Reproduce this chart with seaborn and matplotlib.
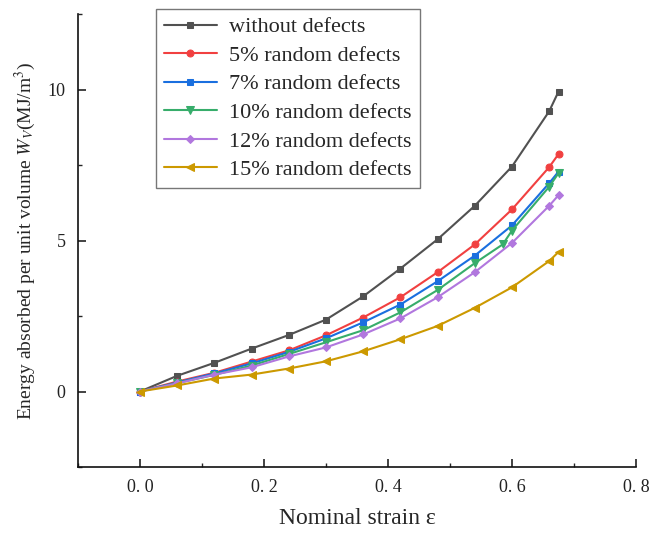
import numpy as np
import pandas as pd
import matplotlib
matplotlib.use("Agg")
import matplotlib.pyplot as plt
import seaborn as sns
from matplotlib.ticker import MultipleLocator, FixedLocator, FixedFormatter

sns.set_theme(style="ticks")
plt.rcParams['font.family'] = ['Liberation Serif', 'DejaVu Serif']
plt.rcParams['mathtext.fontset'] = 'stix'

strain = [0.0, 0.06, 0.12, 0.18, 0.24, 0.30, 0.36, 0.42, 0.48, 0.54, 0.60, 0.66, 0.675]
strain_green = [0.0, 0.06, 0.12, 0.18, 0.24, 0.30, 0.36, 0.42, 0.48, 0.54, 0.585, 0.60, 0.66, 0.675]

without_defects = [0.0, 0.52, 0.95, 1.42, 1.87, 2.38, 3.15, 4.07, 5.04, 6.15, 7.45, 9.28, 9.93]
defects_5 = [0.0, 0.33, 0.62, 0.99, 1.36, 1.86, 2.45, 3.12, 3.95, 4.87, 6.03, 7.43, 7.86]
defects_7 = [0.0, 0.30, 0.60, 0.93, 1.31, 1.76, 2.29, 2.88, 3.65, 4.50, 5.50, 6.90, 7.28]
defects_10 = [0.0, 0.28, 0.55, 0.86, 1.24, 1.63, 2.03, 2.62, 3.36, 4.25, 4.87, 5.33, 6.78, 7.23]
defects_12 = [0.0, 0.27, 0.56, 0.80, 1.16, 1.46, 1.89, 2.42, 3.12, 3.95, 4.92, 6.15, 6.50]
defects_15 = [0.0, 0.20, 0.43, 0.56, 0.76, 1.00, 1.33, 1.73, 2.17, 2.77, 3.45, 4.32, 4.62]

labels = ["without defects", "5% random defects", "7% random defects",
          "10% random defects", "12% random defects", "15% random defects"]
colors = ["#515151", "#F14040", "#1A6FDF", "#37AD6B", "#B177DE", "#CC9900"]
markers = ["s", "o", "s", "v", "D", "<"]
msizes = [5, 5, 4.5, 5.5, 4.5, 5.5]

xticks = [0.0, 0.2, 0.4, 0.6, 0.8]
xtick_labels = ["0. 0", "0. 2", "0. 4", "0. 6", "0. 8"]
yticks = [0, 5, 10]
ytick_labels = ["0", "5", "10"]

series = [(strain, without_defects), (strain, defects_5), (strain, defects_7),
          (strain_green, defects_10), (strain, defects_12), (strain, defects_15)]

frames = []
for lab, (xs, ys) in zip(labels, series):
    frames.append(pd.DataFrame({"strain": xs, "energy": ys, "series": lab}))
df = pd.concat(frames, ignore_index=True)

fig = plt.figure(figsize=(6.57, 5.33), dpi=100)
ax = fig.add_axes([78/657, 1-467/533, (636-78)/657, (467-14)/533])

handles = []
for lab, c, m, ms in zip(labels, colors, markers, msizes):
    d = df[df["series"] == lab]
    sns.lineplot(data=d, x="strain", y="energy", ax=ax, color=c, marker=m,
                 markersize=ms, markeredgecolor=c, linewidth=1.5,
                 label=lab, sort=False, legend=False)
    handles.append(ax.lines[-1])

ax.set_xlim(-0.1, 0.8)
ax.set_ylim(-2.5, 12.5)
ax.xaxis.set_major_locator(FixedLocator(xticks))
ax.xaxis.set_major_formatter(FixedFormatter(xtick_labels))
ax.xaxis.set_minor_locator(MultipleLocator(0.1))
ax.yaxis.set_major_locator(FixedLocator(yticks))
ax.yaxis.set_major_formatter(FixedFormatter(ytick_labels))
ax.yaxis.set_minor_locator(MultipleLocator(2.5))
ax.tick_params(which='major', direction='in', length=5.5, width=1.2, labelsize=13,
               colors='#222222', pad=9)
ax.tick_params(which='minor', direction='in', length=3, width=1.0)
for s in ["top", "right"]:
    ax.spines[s].set_visible(False)
for s in ["left", "bottom"]:
    ax.spines[s].set_linewidth(1.2)
    ax.spines[s].set_color('#111111')

ax.set_xlabel("Nominal strain ε", fontsize=17, labelpad=8)
ax.set_ylabel(r"Energy absorbed per unit volume $W_V$(MJ/m$^3$)", fontsize=14, labelpad=7)

leg = fig.legend(handles=handles, labels=labels, loc="upper left",
                 bbox_to_anchor=(156/657, 1-9/533), borderaxespad=0,
                 fontsize=16, frameon=True,
                 fancybox=False, edgecolor='#555555', handlelength=2.4,
                 labelspacing=0.36, borderpad=0.35, handletextpad=0.55)
leg.get_frame().set_linewidth(1.0)

fig.savefig("out.png", dpi=100)
